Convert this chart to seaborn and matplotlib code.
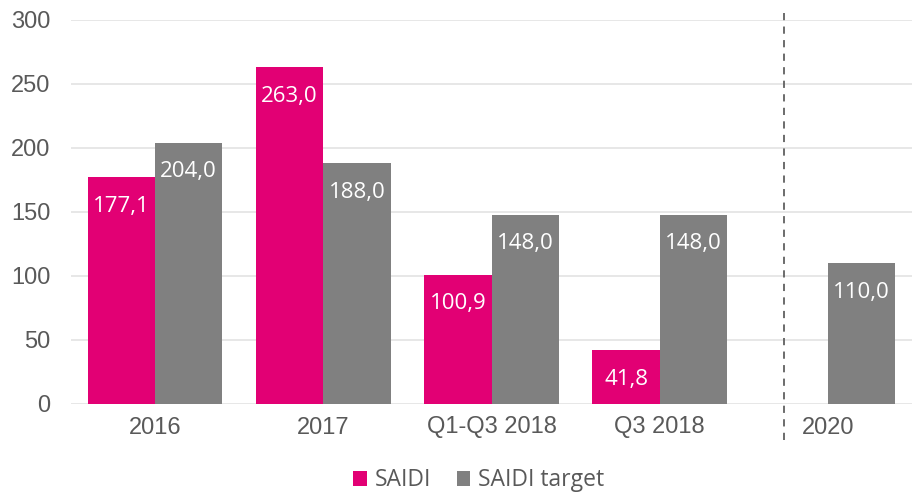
import matplotlib
matplotlib.use("Agg")
import matplotlib.pyplot as plt
import seaborn as sns
import pandas as pd
import numpy as np

categories = ["2016", "2017", "Q1-Q3 2018", "Q3 2018", "2020"]
saidi = [177.1, 263.0, 100.9, 41.8, np.nan]
saidi_target = [204.0, 188.0, 148.0, 148.0, 110.0]
series_names = ["SAIDI", "SAIDI target"]
colors = ["#E20074", "#808080"]

df = pd.DataFrame({
    "period": categories * 2,
    "value": saidi + saidi_target,
    "series": [series_names[0]] * len(categories) + [series_names[1]] * len(categories),
})

sns.set_theme(style="white")
plt.rcParams["font.family"] = ["Open Sans", "DejaVu Sans"]

fig = plt.figure(figsize=(9.18, 4.95), dpi=100)
ax = fig.add_axes([71 / 918, 91 / 495, (912 - 71) / 918, (404 - 20) / 495])

sns.barplot(data=df, x="period", y="value", hue="series", order=categories,
            hue_order=series_names, palette=colors, width=0.8, saturation=1,
            edgecolor="none", ax=ax, errorbar=None)

ax.set_ylim(0, 300)
ax.set_xlim(-0.5, 4.5)
ax.set_yticks(range(0, 301, 50))
ax.yaxis.grid(True, color="#e3e3e3", linewidth=1.2)
ax.set_axisbelow(True)
for s in ax.spines.values():
    s.set_visible(False)
ax.set_xlabel("")
ax.set_ylabel("")
ax.tick_params(axis="both", length=0, labelsize=17, colors="#595959")
ax.tick_params(axis="x", pad=9)
ax.tick_params(axis="y", pad=15)
for lbl in ax.get_xticklabels() + ax.get_yticklabels():
    lbl.set_family(["Liberation Sans", "DejaVu Sans"])

# value labels inside the top of each bar
for cont in ax.containers:
    for bar in cont:
        h = bar.get_height()
        if np.isnan(h) or h == 0:
            continue
        ax.annotate(f"{h:.1f}".replace(".", ","),
                    (bar.get_x() + bar.get_width() / 2, h),
                    xytext=(0, -29), textcoords="offset pixels",
                    ha="center", va="center", color="white", fontsize=16,
                    fontweight="medium")

# separator between actuals and the 2020 target
ax.plot([3.74, 3.74], [-28, 305.5], color="#606060", linestyle=(0, (4, 3.5)),
        linewidth=1.3, clip_on=False)

handles, labels = ax.get_legend_handles_labels()
ax.legend(handles, labels, loc="lower center", bbox_to_anchor=(0.485, -0.272),
          ncol=2, frameon=False, fontsize=16.5, handlelength=0.6, handleheight=0.6,
          handletextpad=0.35, columnspacing=1.1, labelcolor="#595959",
          borderpad=0.2)

fig.savefig("out.png", dpi=100)
